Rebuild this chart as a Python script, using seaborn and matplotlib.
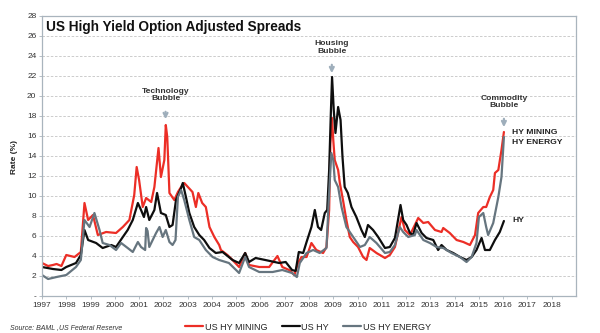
import numpy as np
import pandas as pd
import matplotlib
matplotlib.use("Agg")
import matplotlib.pyplot as plt
import seaborn as sns

# ---------------- data ----------------
mining_year = [1997.0, 1997.25, 1997.45, 1997.6, 1997.8, 1998.0, 1998.34, 1998.6, 1998.75, 1998.9,
               1999.1, 1999.3, 1999.64, 2000.05, 2000.33, 2000.6, 2000.8, 2000.9, 2001.0, 2001.15,
               2001.29, 2001.5, 2001.63, 2001.8, 2001.9, 2002.04, 2002.1, 2002.16, 2002.25, 2002.45,
               2002.6, 2002.73, 2002.86, 2003.2, 2003.34, 2003.44, 2003.6, 2003.75, 2003.9, 2004.1,
               2004.3, 2004.37, 2004.64, 2004.85, 2005.12, 2005.37, 2005.53, 2005.95, 2006.36, 2006.7,
               2006.9, 2007.18, 2007.4, 2007.55, 2007.69, 2007.9, 2008.1, 2008.3, 2008.58, 2008.72,
               2008.83, 2008.88, 2008.95, 2009.0, 2009.06, 2009.2, 2009.27, 2009.4, 2009.54, 2009.68,
               2009.82, 2010.02, 2010.23, 2010.37, 2010.5, 2010.78, 2011.13, 2011.33, 2011.54, 2011.72,
               2011.81, 2011.95, 2012.16, 2012.36, 2012.5, 2012.71, 2012.91, 2013.19, 2013.46, 2013.53,
               2013.8, 2014.08, 2014.36, 2014.63, 2014.84, 2014.97, 2015.18, 2015.3, 2015.45, 2015.59,
               2015.66, 2015.8, 2015.93, 2016.03]
mining_rate = [3.3, 3.0, 3.1, 3.2, 3.0, 4.1, 3.9, 4.4, 9.3, 7.6,
               8.1, 6.1, 6.4, 6.3, 6.9, 7.6, 10.1, 12.9, 11.6, 8.9,
               9.8, 9.4, 10.9, 14.8, 11.9, 13.6, 17.1, 15.9, 10.3, 9.6,
               10.4, 10.9, 11.3, 10.4, 8.9, 10.3, 9.3, 8.9, 6.9, 5.9,
               5.1, 4.6, 4.1, 3.6, 2.9, 4.3, 3.1, 2.9, 2.9, 4.0,
               2.9, 2.6, 2.1, 3.3, 3.9, 3.9, 5.3, 4.6, 4.3, 4.9,
               8.6, 15.3, 17.8, 15.6, 13.6, 12.6, 11.3, 9.6, 7.6, 5.9,
               5.4, 4.9, 3.9, 3.6, 4.8, 4.3, 3.8, 4.1, 4.9, 6.9,
               7.9, 6.6, 6.1, 7.1, 7.8, 7.3, 7.4, 6.6, 6.4, 6.8,
               6.3, 5.6, 5.4, 5.1, 6.1, 8.3, 8.9, 8.9, 9.9, 10.6,
               12.3, 12.6, 14.6, 16.4]

hy_year = [1997.0, 1997.45, 1997.8, 1998.0, 1998.4, 1998.6, 1998.75, 1998.9, 1999.23, 1999.5,
           1999.85, 2000.05, 2000.33, 2000.53, 2000.74, 2000.95, 2001.08, 2001.2, 2001.29, 2001.42,
           2001.63, 2001.74, 2001.9, 2002.1, 2002.25, 2002.38, 2002.52, 2002.73, 2002.8, 2002.93,
           2003.07, 2003.27, 2003.48, 2003.68, 2003.9, 2004.16, 2004.44, 2004.85, 2005.12, 2005.37,
           2005.53, 2005.8, 2006.2, 2006.77, 2007.04, 2007.3, 2007.45, 2007.58, 2007.76, 2007.9,
           2008.1, 2008.24, 2008.37, 2008.5, 2008.65, 2008.75, 2008.83, 2008.9, 2008.95, 2009.02,
           2009.09, 2009.2, 2009.3, 2009.38, 2009.47, 2009.6, 2009.75, 2009.95, 2010.16, 2010.3,
           2010.43, 2010.64, 2010.85, 2011.13, 2011.33, 2011.54, 2011.68, 2011.77, 2011.88, 2012.02,
           2012.16, 2012.29, 2012.43, 2012.64, 2012.84, 2013.12, 2013.32, 2013.46, 2013.67, 2013.94,
           2014.22, 2014.49, 2014.7, 2014.9, 2015.11, 2015.25, 2015.45, 2015.66, 2015.86, 2016.03]
hy_rate = [2.9, 2.7, 2.6, 2.9, 3.3, 4.1, 6.6, 5.6, 5.3, 4.8,
           5.1, 4.9, 5.9, 6.6, 7.6, 9.3, 8.6, 7.9, 8.9, 7.6,
           8.6, 10.3, 8.3, 8.1, 6.9, 7.1, 9.6, 10.8, 11.3, 9.9,
           8.3, 6.9, 6.1, 5.6, 4.8, 4.3, 4.4, 3.6, 3.3, 4.3,
           3.4, 3.8, 3.6, 3.3, 3.4, 2.6, 2.5, 4.4, 4.3, 5.4,
           6.9, 8.6, 6.9, 6.6, 8.3, 8.6, 12.6, 18.3, 21.9, 18.6,
           16.3, 18.9, 17.6, 13.9, 10.9, 10.3, 8.9, 7.9, 6.6, 5.9,
           7.1, 6.6, 5.9, 4.8, 4.9, 5.8, 7.8, 9.1, 7.6, 7.1,
           6.3, 6.1, 7.3, 6.3, 5.8, 5.6, 4.6, 5.1, 4.6, 4.3,
           3.9, 3.6, 3.9, 4.6, 5.8, 4.6, 4.6, 5.6, 6.4, 7.5]

energy_year = [1997.0, 1997.25, 1997.6, 1998.0, 1998.4, 1998.6, 1998.75, 1998.96, 1999.16, 1999.37,
               1999.5, 1999.78, 2000.05, 2000.26, 2000.53, 2000.74, 2000.95, 2001.08, 2001.25, 2001.29,
               2001.35, 2001.42, 2001.7, 2001.84, 2001.97, 2002.1, 2002.25, 2002.38, 2002.5, 2002.6,
               2002.73, 2002.86, 2003.07, 2003.27, 2003.48, 2003.75, 2004.03, 2004.3, 2004.7, 2005.12,
               2005.37, 2005.53, 2005.95, 2006.5, 2006.9, 2007.3, 2007.5, 2007.62, 2007.9, 2008.17,
               2008.44, 2008.72, 2008.83, 2008.92, 2009.0, 2009.06, 2009.2, 2009.34, 2009.54, 2009.82,
               2010.1, 2010.3, 2010.5, 2010.78, 2011.13, 2011.33, 2011.54, 2011.74, 2011.88, 2012.09,
               2012.36, 2012.43, 2012.71, 2012.98, 2013.26, 2013.53, 2013.87, 2014.22, 2014.49, 2014.7,
               2014.9, 2015.0, 2015.18, 2015.3, 2015.38, 2015.59, 2015.8, 2015.93, 2016.03]
energy_rate = [2.1, 1.7, 1.9, 2.1, 2.9, 3.6, 7.6, 6.9, 8.3, 6.6,
               5.3, 5.1, 4.6, 5.3, 4.8, 4.4, 5.4, 4.9, 4.6, 6.8,
               6.5, 4.9, 6.3, 6.9, 5.9, 6.6, 5.4, 5.1, 5.6, 9.9,
               10.6, 9.6, 7.6, 5.9, 5.6, 4.6, 3.9, 3.6, 3.3, 2.3,
               3.9, 2.9, 2.4, 2.4, 2.6, 2.3, 1.9, 3.3, 4.3, 4.6,
               4.3, 4.8, 10.3, 14.3, 13.6, 11.6, 10.9, 8.9, 6.9, 5.9,
               4.9, 5.1, 5.9, 5.3, 4.3, 4.4, 5.1, 6.9, 6.4, 5.9,
               6.1, 6.6, 5.6, 5.3, 4.9, 4.8, 4.3, 3.9, 3.4, 3.9,
               5.3, 7.9, 8.3, 6.9, 6.1, 7.3, 9.9, 11.9, 15.9]

series_names = ["US HY MINING", "US HY", "US HY ENERGY"]
series_colors = ["#ec2e26", "#0e0e0e", "#66757f"]
year_ticks = list(range(1997, 2019))
rate_ticks = list(range(0, 29, 2))
rate_labels = ["-"] + [str(v) for v in rate_ticks[1:]]

title = "US High Yield Option Adjusted Spreads"
bubble_labels = ["Technology\nBubble", "Housing\nBubble", "Commodity\nBubble"]
bubble_x = [2002.09, 2008.94, 2016.03]
bubble_text_y = [20.1, 24.85, 19.4]
bubble_arrow_from = [18.7, 23.4, 18.0]
bubble_arrow_to = [17.4, 22.0, 16.6]

end_labels = ["HY MINING", "HY ENERGY", "HY"]
end_label_y = [16.35, 15.4, 7.55]
end_label_x = 2016.36

# ---------------- build table ----------------
df = pd.concat([
    pd.DataFrame({"year": mining_year, "rate": mining_rate, "series": series_names[0]}),
    pd.DataFrame({"year": hy_year, "rate": hy_rate, "series": series_names[1]}),
    pd.DataFrame({"year": energy_year, "rate": energy_rate, "series": series_names[2]}),
], ignore_index=True)

sns.set_theme(style="white")
plt.rcParams["font.family"] = ["Liberation Sans", "DejaVu Sans"]

fig = plt.figure(figsize=(6, 3.33), dpi=100)
ax = fig.add_axes([42 / 600, 1 - 296 / 333, 534 / 600, 280 / 333])

sns.lineplot(data=df, x="year", y="rate", hue="series", hue_order=series_names,
             palette=dict(zip(series_names, series_colors)), estimator=None, sort=False,
             linewidth=1.6, ax=ax)

ax.set_xlim(1997, 2019)
ax.set_ylim(0, 28)
ax.set_xticks(year_ticks)
ax.set_xticklabels([str(y) for y in year_ticks])
ax.set_yticks(rate_ticks)
ax.set_yticklabels(rate_labels)
ax.set_xlabel("")
ax.set_ylabel("")
ax.tick_params(axis="both", labelsize=6, colors="#333333", length=2, width=0.6, pad=2,
               direction="out", left=True, bottom=True)
ax.tick_params(axis="both", color="#a9b4bd")
ax.yaxis.grid(True, linestyle=(0, (3, 2)), color="#c4c4c4", linewidth=0.6)
ax.set_axisbelow(True)
for s in ax.spines.values():
    s.set_visible(True)
    s.set_color("#a9b4bd")
    s.set_linewidth(0.9)

ax.text(0.007, 0.961, title, transform=ax.transAxes, fontsize=9.8, fontweight="bold",
        color="#111111", va="center", ha="left")

for lab, bx, ty, af, at in zip(bubble_labels, bubble_x, bubble_text_y, bubble_arrow_from, bubble_arrow_to):
    ax.text(bx, ty, lab, ha="center", va="center", fontsize=6.1, fontweight="bold",
            color="#333333", linespacing=1.05)
    ax.annotate("", xy=(bx, at), xytext=(bx, af),
                arrowprops=dict(arrowstyle="->", color="#9eaebb", lw=1.6, mutation_scale=7))

for lab, ly in zip(end_labels, end_label_y):
    ax.text(end_label_x, ly, lab, ha="left", va="center", fontsize=6.1, fontweight="bold",
            color="#222222")

handles, labels = ax.get_legend_handles_labels()
if ax.get_legend() is not None:
    ax.get_legend().remove()
fig.legend(handles, labels, loc="center", bbox_to_anchor=(308 / 600, 1 - 327 / 333), ncol=3,
           frameon=False, fontsize=6.5, handlelength=2.0, handletextpad=0.15, columnspacing=1.6,
           labelcolor="#222222")

fig.text(14 / 600, 1 - 157 / 333, "Rate (%)", rotation=90, ha="center", va="center",
         fontsize=6, fontweight="bold", color="#222222")
fig.text(10 / 600, 1 - 328 / 333, "Source: BAML ,US Federal Reserve", ha="left", va="center",
         fontsize=5, style="italic", color="#333333")

fig.savefig("out.png", dpi=100)
